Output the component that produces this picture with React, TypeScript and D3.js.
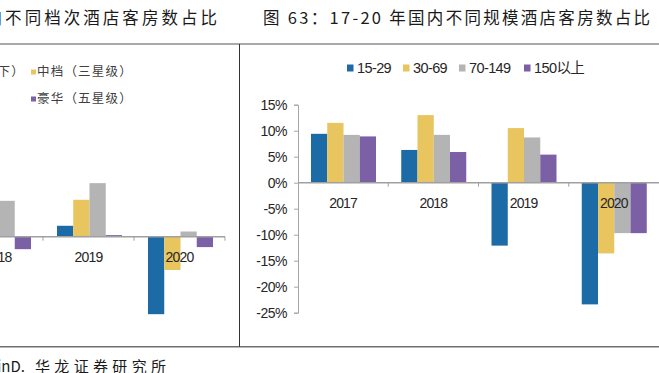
import { useEffect, useRef } from "react";
import * as d3 from "d3";

// right chart: 17-20 room share change by hotel size
const years = ["2017", "2018", "2019", "2020"];
const sizeSeries = ["15-29", "30-69", "70-149", "150以上"];
const rooms15to29 = [9.4, 6.3, -12.1, -23.4];
const rooms30to69 = [11.5, 13.0, 10.5, -13.6];
const rooms70to149 = [9.2, 9.2, 8.7, -9.7];
const rooms150plus = [8.9, 5.9, 5.4, -9.7];
const yTicks = [-25, -20, -15, -10, -5, 0, 5, 10, 15];

// left chart: by hotel grade (only part of it is in frame)
const gradeYears = ["2018", "2019", "2020"];
const gradeSeries = ["经济（二星级及以下）", "中档（三星级）", "高档（四星级）", "豪华（五星级）"];
const economy = [4.0, 2.1, -14.9];
const midscale = [5.5, 7.1, -6.4];
const upscale = [6.9, 10.3, 1.0];
const luxury = [-2.4, 0.3, -2.0];

const colors = ["#1c6aa6", "#e8c55f", "#b4b4b4", "#7b60a6"];
const latin = "'Liberation Sans', Arial, 'Noto Sans CJK SC', sans-serif";
const cjk = "'Noto Sans CJK SC', sans-serif";

const App = () => {
  const axisRef = useRef<SVGGElement | null>(null);

  // right chart scales
  const x0 = d3.scaleBand().domain(years).range([298, 659]);
  const x1 = d3.scaleBand().domain(sizeSeries).range([13, 78]);
  const y = d3.scaleLinear().domain([-25, 15]).range([312.7, 104.7]);
  const sizeValues = [rooms15to29, rooms30to69, rooms70to149, rooms150plus];

  // left chart scales
  const lx0 = d3.scaleBand().domain(gradeYears).range([-48, 225]);
  const lx1 = d3.scaleBand().domain(gradeSeries).range([14, 79]);
  const ly = d3.scaleLinear().domain([-20, 15]).range([340.7, 158.7]);
  const gradeValues = [economy, midscale, upscale, luxury];

  useEffect(() => {
    const g = d3.select(axisRef.current);
    g.selectAll("*").remove();
    g.call(
      d3
        .axisLeft(y)
        .tickValues(yTicks)
        .tickSize(4)
        .tickSizeOuter(4)
        .tickPadding(7)
        .tickFormat((d: any) => `${d}%`)
    );
    g.attr("font-size", 14).attr("font-family", latin);
    g.select(".domain").attr("stroke", "#a6a6a6");
    g.selectAll(".tick line").attr("stroke", "#a6a6a6");
    g.selectAll(".tick text").attr("fill", "#262626").attr("letter-spacing", -0.5);
  }, []);

  const legendX = [347, 403, 459, 524];

  return (
    <svg
      width={659}
      height={373}
      style={{ position: "absolute", left: 0, top: 0, background: "#fff" }}
    >
      {/* titles */}
      <text x={-34} y={17} dominantBaseline="central" fontFamily={cjk} fontSize={16.5}
        fill="#1a1a1a" textLength={251} lengthAdjust="spacing">
        国内不同档次酒店客房数占比
      </text>
      <text x={263} y={17} dominantBaseline="central" fontFamily={cjk} fontSize={16.5}
        fill="#1a1a1a" textLength={387} lengthAdjust="spacing">
        图 63：17-20 年国内不同规模酒店客房数占比
      </text>

      {/* frame */}
      <line x1={0} x2={659} y1={44} y2={44} stroke="#8c8c8c" strokeWidth={1.5} />
      <line x1={0} x2={659} y1={346.7} y2={346.7} stroke="#707070" strokeWidth={1.5} />
      <line x1={239.5} x2={239.5} y1={44} y2={346.7} stroke="#333" strokeWidth={1} />

      {/* left chart */}
      <g>
        {gradeSeries.map((s, j) => {
          const col = j % 2;
          const row = Math.floor(j / 2);
          const tx = col === 0 ? -112 : 37;
          const ty = 72 + row * 27;
          return (
            <g key={s}>
              <rect x={tx - 6} y={ty - 2.5} width={5} height={5} fill={colors[j]} />
              <text x={tx} y={ty} dy="0.35em" fontFamily={cjk} fontSize={12.5}
                fill="#404040" letterSpacing={1.2}>
                {s}
              </text>
            </g>
          );
        })}
        {gradeYears.map((yr, i) =>
          gradeValues.map((vals, j) => {
            const v = vals[i];
            return (
              <rect
                key={yr + j}
                x={(lx0(yr) as number) + (lx1(gradeSeries[j]) as number)}
                width={lx1.bandwidth()}
                y={ly(Math.max(0, v))}
                height={Math.abs(ly(v) - ly(0))}
                fill={colors[j]}
              />
            );
          })
        )}
        <line x1={lx0.range()[0]} x2={lx0.range()[1]} y1={ly(0)} y2={ly(0)}
          stroke="#a0a0a0" strokeWidth={1.5} />
        {gradeYears.map((yr) => (
          <line key={yr} x1={(lx0(yr) as number) + lx0.step()} x2={(lx0(yr) as number) + lx0.step()}
            y1={ly(0)} y2={ly(0) + 4} stroke="#a0a0a0" />
        ))}
        {gradeYears.map((yr) => (
          <text key={yr} x={(lx0(yr) as number) + lx0.bandwidth() / 2} y={ly(0) + 20}
            dy="0.35em" textAnchor="middle" fontFamily={latin} fontSize={14}
            letterSpacing={-0.8} fill="#262626">
            {yr}
          </text>
        ))}
      </g>

      {/* right chart */}
      <g>
        {sizeSeries.map((s, j) => (
          <g key={s}>
            <rect x={legendX[j]} y={64.5} width={6.5} height={7} fill={colors[j]} />
            <text x={legendX[j] + 10} y={68} dy="0.35em" fontFamily={latin}
              fontSize={14.5} letterSpacing={-0.6} fill="#262626">
              {s}
            </text>
          </g>
        ))}
        {years.map((yr, i) =>
          sizeValues.map((vals, j) => {
            const v = vals[i];
            return (
              <rect
                key={yr + j}
                x={(x0(yr) as number) + (x1(sizeSeries[j]) as number)}
                width={x1.bandwidth()}
                y={y(Math.max(0, v))}
                height={Math.abs(y(v) - y(0))}
                fill={colors[j]}
              />
            );
          })
        )}
        <line x1={x0.range()[0]} x2={x0.range()[1]} y1={y(0)} y2={y(0)}
          stroke="#a0a0a0" strokeWidth={1.5} />
        {years.slice(0, 3).map((yr) => (
          <line key={yr} x1={(x0(yr) as number) + x0.step()} x2={(x0(yr) as number) + x0.step()}
            y1={y(0)} y2={y(0) + 4} stroke="#a0a0a0" />
        ))}
        {years.map((yr) => (
          <text key={yr} x={(x0(yr) as number) + x0.bandwidth() / 2} y={y(0) + 20}
            dy="0.35em" textAnchor="middle" fontFamily={latin} fontSize={14}
            letterSpacing={-0.8} fill="#262626">
            {yr}
          </text>
        ))}
        <g ref={axisRef} transform="translate(298,0)" />
      </g>

      {/* source */}
      <text x={25} y={366.5} dy="0.35em" textAnchor="end" fontFamily={cjk} fontSize={15}
        fill="#1a1a1a">
        资料来源：WinD.
      </text>
      <text x={35} y={366.5} dy="0.35em" fontFamily={cjk} fontSize={15} fill="#1a1a1a"
        textLength={131} lengthAdjust="spacing">
        华龙证券研究所
      </text>
    </svg>
  );
};

export default App;
